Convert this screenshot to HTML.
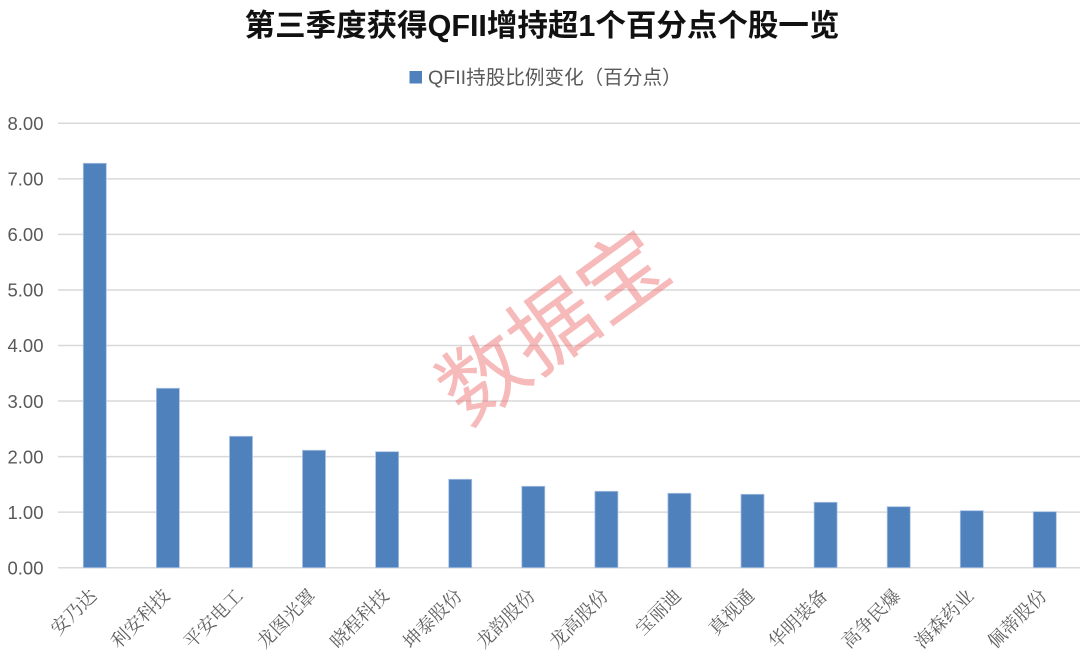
<!DOCTYPE html>
<html>
<head>
<meta charset="utf-8">
<style>
  html, body { margin: 0; padding: 0; background: #ffffff; }
  body { width: 1080px; height: 668px; overflow: hidden; }
  svg { display: block; }
</style>
</head>
<body>
<svg width="1080" height="668" viewBox="0 0 1080 668" xmlns="http://www.w3.org/2000/svg">
  <rect x="0" y="0" width="1080" height="668" fill="#ffffff"/>

  <!-- Title -->
  <text x="542" y="36" text-anchor="middle" font-family="'Liberation Sans', 'Noto Sans CJK SC', sans-serif" font-size="30.5" font-weight="bold" fill="#111111">第三季度获得QFII增持超1个百分点个股一览</text>

  <!-- Legend -->
  <rect x="409.5" y="71" width="12.5" height="12.5" fill="#4f81bd"/>
  <text x="428" y="84" font-family="'Liberation Sans', 'Noto Sans CJK SC', sans-serif" font-size="19.6" fill="#595959">QFII持股比例变化（百分点）</text>

  <!-- Gridlines -->
  <g stroke="#d9d9d9" stroke-width="1.5">
    <line x1="58" y1="123.3" x2="1080" y2="123.3"/>
    <line x1="58" y1="178.85" x2="1080" y2="178.85"/>
    <line x1="58" y1="234.4" x2="1080" y2="234.4"/>
    <line x1="58" y1="289.95" x2="1080" y2="289.95"/>
    <line x1="58" y1="345.5" x2="1080" y2="345.5"/>
    <line x1="58" y1="401.05" x2="1080" y2="401.05"/>
    <line x1="58" y1="456.6" x2="1080" y2="456.6"/>
    <line x1="58" y1="512.15" x2="1080" y2="512.15"/>
    <line x1="58" y1="567.7" x2="1080" y2="567.7"/>
  </g>

  <!-- Y axis labels -->
  <g font-family="'Liberation Sans', sans-serif" font-size="18.5" fill="#595959" text-anchor="end">
    <text x="43.5" y="130">8.00</text>
    <text x="43.5" y="185.55">7.00</text>
    <text x="43.5" y="241.1">6.00</text>
    <text x="43.5" y="296.65">5.00</text>
    <text x="43.5" y="352.2">4.00</text>
    <text x="43.5" y="407.75">3.00</text>
    <text x="43.5" y="463.3">2.00</text>
    <text x="43.5" y="518.85">1.00</text>
    <text x="43.5" y="574.4">0.00</text>
  </g>

  <!-- Bars -->
  <g fill="#4f81bd" stroke="#a9c1e3" stroke-width="0.8">
    <rect x="83.3" y="163.3" width="23" height="404.4"/>
    <rect x="156.4" y="388.3" width="23" height="179.4"/>
    <rect x="229.5" y="436.3" width="23" height="131.4"/>
    <rect x="302.5" y="450.3" width="23" height="117.4"/>
    <rect x="375.6" y="451.7" width="23" height="116.0"/>
    <rect x="448.7" y="479.3" width="23" height="88.4"/>
    <rect x="521.8" y="486.3" width="23" height="81.4"/>
    <rect x="594.9" y="491.3" width="23" height="76.4"/>
    <rect x="667.9" y="493.3" width="23" height="74.4"/>
    <rect x="741.0" y="494.3" width="23" height="73.4"/>
    <rect x="814.1" y="502.3" width="23" height="65.4"/>
    <rect x="887.2" y="506.7" width="23" height="61.0"/>
    <rect x="960.3" y="510.7" width="23" height="57.0"/>
    <rect x="1033.3" y="511.7" width="23" height="56.0"/>
  </g>

  <!-- Category labels -->
  <g font-family="'Liberation Serif', 'Noto Serif CJK SC', serif" font-size="18.5" fill="#5f5f5f" text-anchor="end">
    <text transform="translate(97.8,597) rotate(-45)">安乃达</text>
    <text transform="translate(170.9,597) rotate(-45)">利安科技</text>
    <text transform="translate(244,597) rotate(-45)">平安电工</text>
    <text transform="translate(317,597) rotate(-45)">龙图光罩</text>
    <text transform="translate(390.1,597) rotate(-45)">晓程科技</text>
    <text transform="translate(463.2,597) rotate(-45)">坤泰股份</text>
    <text transform="translate(536.3,597) rotate(-45)">龙韵股份</text>
    <text transform="translate(609.4,597) rotate(-45)">龙高股份</text>
    <text transform="translate(682.4,597) rotate(-45)">宝丽迪</text>
    <text transform="translate(755.5,597) rotate(-45)">真视通</text>
    <text transform="translate(828.6,597) rotate(-45)">华明装备</text>
    <text transform="translate(901.7,597) rotate(-45)">高争民爆</text>
    <text transform="translate(974.8,597) rotate(-45)">海森药业</text>
    <text transform="translate(1047.8,597) rotate(-45)">佩蒂股份</text>
  </g>

  <!-- Watermark -->
  <text transform="translate(549,321) rotate(-36)" text-anchor="middle" dominant-baseline="central" font-family="'Noto Sans CJK SC', sans-serif" font-size="86" fill="#ee6666" fill-opacity="0.45">数据宝</text>
</svg>
</body>
</html>
